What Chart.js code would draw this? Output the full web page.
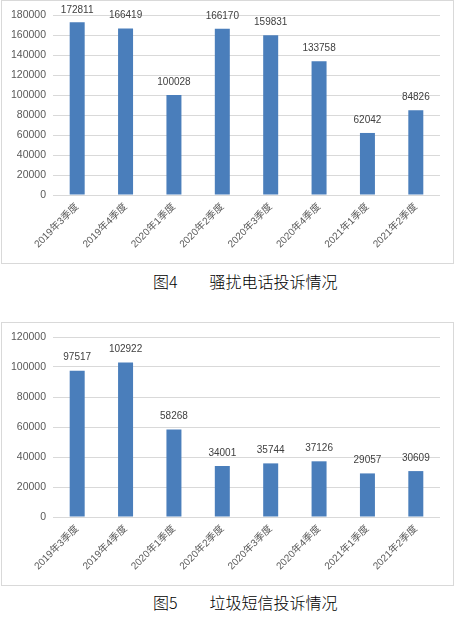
<!DOCTYPE html>
<html>
<head>
<meta charset="utf-8">
<script src="https://cdn.jsdelivr.net/npm/chart.js@4.4.1/dist/chart.umd.min.js"></script>
<style>
  html, body { margin: 0; padding: 0; background: #fff; }
  body { width: 455px; height: 626px; position: relative; overflow: hidden; }
  .box { position: absolute; left: 1px; width: 453px; height: 264px; box-sizing: border-box; border: 1px solid #d9d9d9; }
  .box canvas { display: block; }
  .caption { position: absolute; left: 153px; font: 16px "Noto Sans CJK SC", sans-serif; font-weight: 300; line-height: 18px; color: #000; white-space: pre; }
</style>
</head>
<body>
<div class="box" style="top:0px"><canvas id="calls-chart" width="451" height="262"></canvas></div>
<div class="caption" style="top:272px">图4　　骚扰电话投诉情况</div>
<div class="box" style="top:322px"><canvas id="sms-chart" width="451" height="262"></canvas></div>
<div class="caption" style="top:593px">图5　　垃圾短信投诉情况</div>
<script>
const categories = ["2019年3季度", "2019年4季度", "2020年1季度", "2020年2季度", "2020年3季度", "2020年4季度", "2021年1季度", "2021年2季度"];
const callValues = [172811, 166419, 100028, 166170, 159831, 133758, 62042, 84826];
const smsValues  = [97517, 102922, 58268, 34001, 35744, 37126, 29057, 30609];
const callAxisMax = 180000;
const smsAxisMax  = 120000;
const axisStep    = 20000;

const BAR_COLOR  = "#4a7ebb";
const GRID_COLOR = "#d9d9d9";
const TICK_COLOR = "#595959";
const FONT = "'Liberation Sans', 'Noto Sans CJK SC', sans-serif";

// draws the value above each bar (no datalabels plugin offline)
const valueLabels = {
  id: "valueLabels",
  afterDatasetsDraw(chart) {
    const ctx = chart.ctx;
    const meta = chart.getDatasetMeta(0);
    const data = chart.data.datasets[0].data;
    ctx.save();
    ctx.font = "10px " + FONT;
    ctx.fillStyle = "#404040";
    ctx.textAlign = "center";
    ctx.textBaseline = "bottom";
    meta.data.forEach((bar, i) => {
      const y = Math.max(bar.y - 8, 14);
      ctx.fillText(String(data[i]), bar.x, y);
    });
    ctx.restore();
  },
};

function buildChart(id, values, max) {
  const ctx = document.getElementById(id).getContext("2d");
  return new Chart(ctx, {
    type: "bar",
    data: {
      labels: categories,
      datasets: [{
        data: values,
        backgroundColor: BAR_COLOR,
        borderWidth: 0,
        categoryPercentage: 1,
        barPercentage: 0.31,
      }],
    },
    options: {
      responsive: false,
      animation: false,
      devicePixelRatio: 1,
      layout: { padding: { top: 14, right: 13, left: 0, bottom: 0 } },
      plugins: { legend: { display: false }, tooltip: { enabled: false } },
      scales: {
        x: {
          grid: { display: false, drawTicks: false },
          border: { display: false },
          ticks: {
            color: TICK_COLOR,
            font: { family: FONT, size: 10 },
            minRotation: 45,
            maxRotation: 45,
            padding: 6,
            autoSkip: false,
          },
          afterFit: s => { s.height = 68; },
        },
        y: {
          min: 0,
          max: max,
          grid: { color: GRID_COLOR, drawTicks: false },
          border: { display: false },
          ticks: {
            stepSize: axisStep,
            color: TICK_COLOR,
            font: { family: FONT, size: 10.5 },
            padding: 7,
            callback: v => String(v),
          },
          afterFit: s => { s.width = 51; },
        },
      },
    },
    plugins: [valueLabels],
  });
}

buildChart("calls-chart", callValues, callAxisMax);
buildChart("sms-chart", smsValues, smsAxisMax);
</script>
</body>
</html>
